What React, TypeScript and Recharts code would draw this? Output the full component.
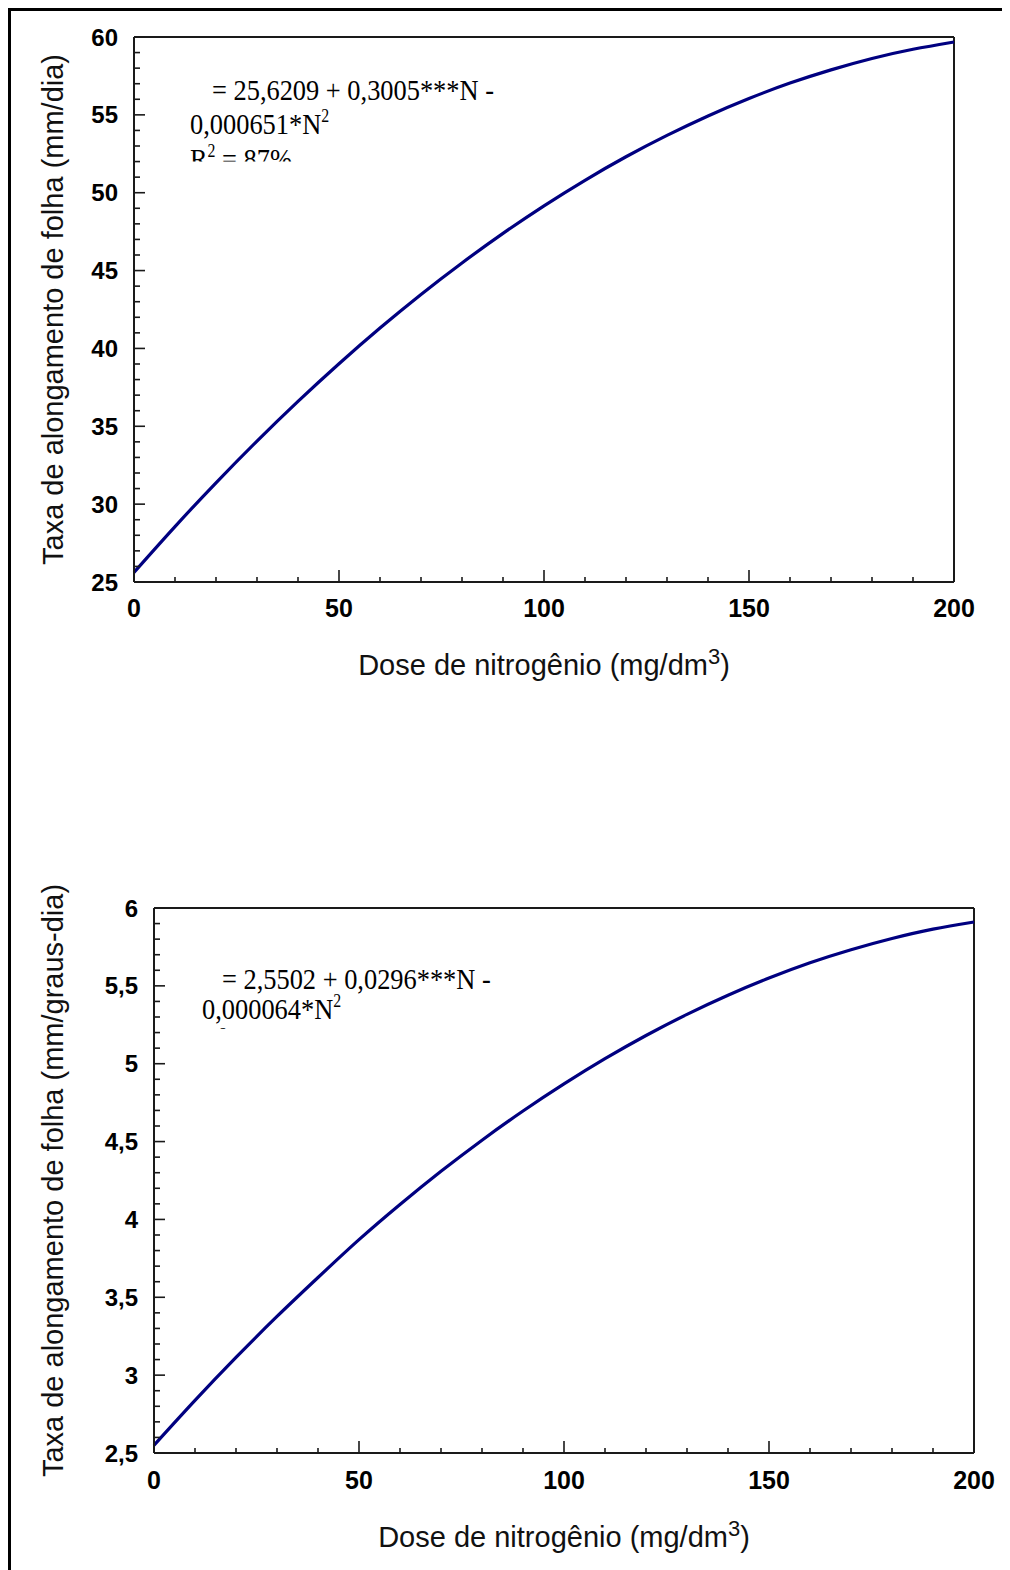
import React from 'react';
import { LineChart, Line, XAxis, YAxis, ReferenceLine } from 'recharts';

// Nitrogen doses (mg/dm³) and the fitted leaf elongation rates
const doses = [0, 10, 20, 30, 40, 50, 60, 70, 80, 90, 100, 110, 120, 130, 140, 150, 160, 170, 180, 190, 200];
const rateDaily = [25.62, 28.56, 31.37, 34.05, 36.6, 39.02, 41.31, 43.47, 45.49, 47.39, 49.16, 50.8, 52.31, 53.68, 54.93, 56.05, 57.04, 57.89, 58.62, 59.21, 59.68];
const rateThermal = [2.55, 2.838, 3.114, 3.377, 3.627, 3.87, 4.096, 4.309, 4.509, 4.696, 4.87, 5.032, 5.181, 5.317, 5.44, 5.55, 5.648, 5.732, 5.804, 5.864, 5.91];

const doseMajor = [0, 50, 100, 150, 200];
const dailyMajor = [25, 30, 35, 40, 45, 50, 55, 60];
const thermalMajor = [2.5, 3, 3.5, 4, 4.5, 5, 5.5, 6];

const xTitle = 'Dose de nitrogênio (mg/dm';
const yTitleDaily = 'Taxa de alongamento de folha (mm/dia)';
const yTitleThermal = 'Taxa de alongamento de folha (mm/graus-dia)';

const range = (a: number, b: number, step: number) => {
  const out: number[] = [];
  const n = Math.round((b - a) / step);
  for (let i = 0; i <= n; i++) out.push(Math.round((a + i * step) * 1000) / 1000);
  return out;
};

const doseTicks = range(0, 200, 10);
const dailyTicks = range(25, 60, 1);
const thermalTicks = range(2.5, 6, 0.1);

const rows = doses.map((n, i) => ({ n, daily: rateDaily[i], thermal: rateThermal[i] }));

const SANS = '"Liberation Sans", Arial, sans-serif';
const SERIF = '"Liberation Serif", "Times New Roman", serif';
const INK = '#1a1a1a';

const isMajor = (list: number[], v: number) => list.some((m) => Math.abs(m - v) < 1e-6);
const fmt = (v: number) => String(v).replace('.', ',');

const XTick = (props: any) => {
  const { x, y, payload, majors, labelDy } = props;
  const v = payload.value;
  const major = isMajor(majors, v);
  return (
    <g>
      <line x1={x} x2={x} y1={y} y2={y - (major ? 12 : 5)} stroke={INK} strokeWidth={1.6} />
      {major && (
        <text x={x} y={y + labelDy} textAnchor="middle" fontFamily={SANS} fontWeight="bold" fontSize={25} fill="#000">
          {fmt(v)}
        </text>
      )}
    </g>
  );
};

const YTick = (props: any) => {
  const { x, y, payload, majors } = props;
  const v = payload.value;
  const major = isMajor(majors, v);
  return (
    <g>
      <line x1={x} x2={x + (major ? 11 : 6)} y1={y} y2={y} stroke={INK} strokeWidth={1.6} />
      {major && (
        <text x={x - 16} y={y} dy="0.36em" textAnchor="end" fontFamily={SANS} fontWeight="bold" fontSize={24} fill="#000">
          {fmt(v)}
        </text>
      )}
    </g>
  );
};

const XTitle = (props: any) => {
  const { viewBox, dy } = props;
  const cx = viewBox.x + viewBox.width / 2;
  const by = viewBox.y + dy;
  return (
    <text x={cx} y={by} textAnchor="middle" fontFamily={SANS} fontSize={29} fill="#111">
      {xTitle}
      <tspan dy={-11} fontSize={22}>3</tspan>
      <tspan dy={11}>)</tspan>
    </text>
  );
};

const YTitle = (props: any) => {
  const { viewBox, text, bx } = props;
  const cy = viewBox.y + viewBox.height / 2;
  return (
    <text
      transform={`translate(${bx},${cy}) rotate(-90)`}
      textAnchor="middle"
      fontFamily={SANS}
      fontSize={29}
      fill="#111"
    >
      {text}
    </text>
  );
};

type PanelProps = {
  dataKey: string;
  yDomain: [number, number];
  yTicks: number[];
  yMajors: number[];
  yTitle: string;
  width: number;
  height: number;
  margin: { top: number; right: number; bottom: number; left: number };
  labelDy: number;
  titleDy: number;
  titleX: number;
};

const Panel = (p: PanelProps) => (
  <LineChart width={p.width} height={p.height} data={rows} margin={p.margin}>
    <XAxis
      dataKey="n"
      type="number"
      domain={[0, 200]}
      ticks={doseTicks}
      interval={0}
      height={30}
      tickSize={0}
      tickMargin={0}
      tickLine={false}
      axisLine={{ stroke: INK, strokeWidth: 2 }}
      tick={(t: any) => <XTick {...t} majors={doseMajor} labelDy={p.labelDy} />}
      label={<XTitle dy={p.titleDy} />}
    />
    <YAxis
      type="number"
      domain={p.yDomain}
      ticks={p.yTicks}
      interval={0}
      width={60}
      tickSize={0}
      tickMargin={0}
      tickLine={false}
      allowDataOverflow
      axisLine={{ stroke: INK, strokeWidth: 2 }}
      tick={(t: any) => <YTick {...t} majors={p.yMajors} />}
      label={<YTitle text={p.yTitle} bx={p.titleX} />}
    />
    <ReferenceLine y={p.yDomain[1]} stroke={INK} strokeWidth={2} />
    <ReferenceLine x={200} stroke={INK} strokeWidth={2} />
    <Line
      type="natural"
      dataKey={p.dataKey}
      stroke="#000080"
      strokeWidth={3.2}
      dot={false}
      isAnimationActive={false}
    />
  </LineChart>
);

const Equation = (props: { lines: { x: number; y: number; parts: [string, string?, string?] }[]; clipId: string; clipY: number; clipH: number }) => (
  <g>
    <defs>
      <clipPath id={props.clipId}>
        <rect x={0} y={props.clipY} width={1002} height={props.clipH} />
      </clipPath>
    </defs>
    <g clipPath={`url(#${props.clipId})`}>
      {props.lines.map((l, i) => (
        <text
          key={i}
          transform={`translate(${l.x},${l.y}) scale(0.88,1)`}
          fontFamily={SERIF}
          fontSize={30}
          fill="#000"
        >
          {l.parts[0]}
          {l.parts[1] && (
            <tspan dy={-12} fontSize={18}>
              {l.parts[1]}
            </tspan>
          )}
          {l.parts[2] && <tspan dy={12}>{l.parts[2]}</tspan>}
        </text>
      ))}
    </g>
  </g>
);

export default function App() {
  return (
    <div style={{ position: 'relative', width: 1002, height: 1562, background: '#fff' }}>
      <div
        style={{
          position: 'absolute',
          left: 0,
          top: 0,
          width: 1002,
          height: 1562,
          borderTop: '3px solid #000',
          borderLeft: '3px solid #000',
          boxSizing: 'border-box',
        }}
      />
      <div style={{ position: 'absolute', left: 0, top: 0 }}>
        <Panel
          dataKey="daily"
          yDomain={[25, 60]}
          yTicks={dailyTicks}
          yMajors={dailyMajor}
          yTitle={yTitleDaily}
          width={1002}
          height={760}
          margin={{ top: 29, right: 56, bottom: 156, left: 66 }}
          labelDy={35}
          titleDy={93}
          titleX={55}
        />
      </div>
      <div style={{ position: 'absolute', left: 0, top: 780 }}>
        <Panel
          dataKey="thermal"
          yDomain={[2.5, 6]}
          yTicks={thermalTicks}
          yMajors={thermalMajor}
          yTitle={yTitleThermal}
          width={1002}
          height={782}
          margin={{ top: 120, right: 36, bottom: 87, left: 86 }}
          labelDy={36}
          titleDy={94}
          titleX={55}
        />
      </div>
      <svg
        width={1002}
        height={1562}
        style={{ position: 'absolute', left: 0, top: 0, pointerEvents: 'none' }}
      >
        <Equation
          clipId="eq-daily"
          clipY={40}
          clipH={113.5}
          lines={[
            { x: 204, y: 92, parts: ['= 25,6209 + 0,3005***N -'] },
            { x: 182, y: 126, parts: ['0,000651*N', '2'] },
            { x: 182, y: 161, parts: ['R', '2', ' = 87%'] },
          ]}
        />
        <Equation
          clipId="eq-thermal"
          clipY={930}
          clipH={91}
          lines={[
            { x: 214, y: 981, parts: ['= 2,5502 + 0,0296***N -'] },
            { x: 194, y: 1011, parts: ['0,000064*N', '2'] },
            { x: 194, y: 1045, parts: ['R', '2'] },
          ]}
        />
      </svg>
    </div>
  );
}
